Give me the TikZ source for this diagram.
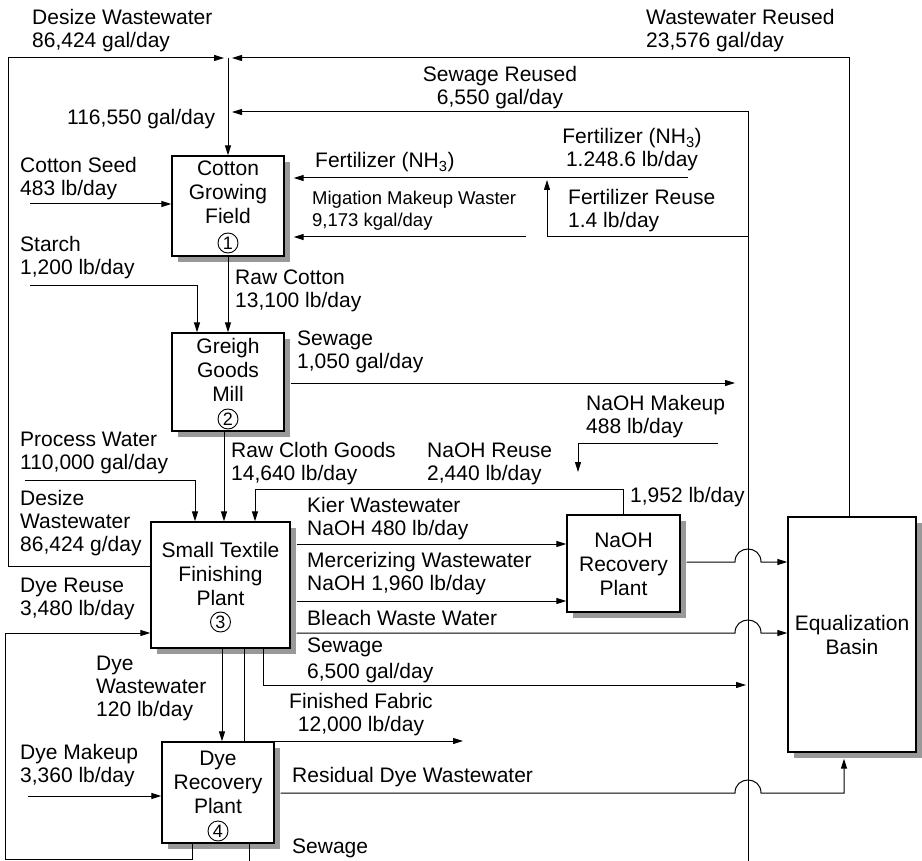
\documentclass[tikz,border=0pt]{standalone}
\usepackage{fontspec}
\setmainfont{Liberation Sans}
\usetikzlibrary{arrows.meta,shadows,calc}
\begin{document}
\begin{tikzpicture}[x=1pt,y=-1pt,
  lbl/.style={font=\fontsize{21}{23}\selectfont, inner sep=0pt, anchor=base west, align=left},
  lblc/.style={font=\fontsize{21}{23}\selectfont, inner sep=0pt, anchor=base, align=center},
  small/.style={font=\fontsize{18.5}{22}\selectfont, inner sep=0pt, anchor=base west, align=left},
  boxtxt/.style={font=\fontsize{21}{24}\selectfont, inner sep=0pt, anchor=base, align=center},
  box/.style={draw, fill=white, line width=1.3pt, inner sep=0pt,
    drop shadow={shadow xshift=6pt, shadow yshift=-6pt, fill=black!40, opacity=1}},
  num/.style={draw, circle, line width=0.9pt, minimum size=20pt, inner sep=0pt, font=\fontsize{18}{18}\selectfont},
  flow/.style={line width=1pt, -{Triangle[length=10pt,width=6pt]}},
  pipe/.style={line width=1pt},
]
\useasboundingbox (0,0) rectangle (922,861);

% boxes
\node[box, minimum width=112pt, minimum height=100pt] (b1) at (228,206) {};
\node[box, minimum width=112pt, minimum height=98pt] (b2) at (228,382) {};
\node[box, minimum width=139pt, minimum height=126pt] (b3) at (220.5,585) {};
\node[box, minimum width=112pt, minimum height=101pt] (b4) at (218,792.5) {};
\node[box, minimum width=113pt, minimum height=97pt] (b5) at (623.5,563.5) {};
\node[box, minimum width=128pt, minimum height=235pt] (b6) at (852,634.5) {};

% box texts (base anchor = last line)
\node[boxtxt] (t1) at (228,224) {Cotton\\Growing\\Field};
\node[num] (c1) at (228,243) {1};
\node[boxtxt] (t2) at (228,401) {Greigh\\Goods\\Mill};
\node[num] (c2) at (228,419) {2};
\node[boxtxt] (t3) at (220.5,605) {Small Textile\\Finishing\\Plant};
\node[num] (c3) at (220.5,622) {3};
\node[boxtxt] (t4) at (218,813) {Dye\\Recovery\\Plant};
\node[num] (c4) at (218,831) {4};
\node[boxtxt] (t5) at (623.5,595) {NaOH\\Recovery\\Plant};
\node[boxtxt] (t6) at (852,654) {Equalization\\Basin};

% named free ends
\coordinate (J) at (228,58);
\coordinate (fz) at (688,178);
\coordinate (mg) at (526,237);
\coordinate (cs) at (30,204);
\coordinate (st) at (30,286);
\coordinate (pw) at (25,480);
\coordinate (nm) at (718,443);
\coordinate (nmt) at (578,472);
\coordinate (ffe) at (463,741);
\coordinate (dm) at (28,796);
\coordinate (swb) at (748,861);
\coordinate (s1e) at (735,383);
\coordinate (s2e) at (746,685);

% top loop
\draw[flow] (b3.west |- 0,566) -- (8,566) -- (8,58) -- ($(J)+(-4,0)$);
\draw[flow] (b6.north -| 849,0) -- (849,58) -- ($(J)+(4,0)$);
\draw[flow] (J) -- (b1.north);
\draw[flow] (swb) -- (748,112) -- ($(J |- 0,112)+(4,0)$);
\draw[flow] (748,237) -- (547,237) -- (547,180);

% cotton field inputs
\draw[flow] (fz) -- ($(b1.east |- fz)+(9,0)$);
\draw[flow] (mg) -- ($(b1.east |- mg)+(9,0)$);
\draw[flow] (cs) -- (b1.west |- cs);
\draw[flow] (b1.south) -- (b2.north);
\draw[flow] (st) -| ($(b2.north)+(-31,0)$);
\draw[flow] ($(b2.east |- s1e)+(6,0)$) -- (s1e);

% textile plant inputs
\draw[flow] ($(b2.south)+(-4,0)$) -- ($(b3.north)+(3.5,0)$);
\draw[flow] (pw) -| ($(b3.north)+(-25.5,0)$);
\draw[flow] (b5.north) |- (255,489) -- ($(b3.north)+(34.5,0)$);
\draw[flow] (nm) -| (nmt);

% textile outputs
\draw[flow] ($(b3.east |- 0,544)+(6,0)$) -- (b5.west |- 0,544);
\draw[flow] ($(b3.east |- 0,601)+(6,0)$) -- (b5.west |- 0,601);
\draw[flow] ($(b3.east |- 0,633)+(6,0)$) -- (735,633)
  .. controls +(0,-17.3) and +(0,-17.3) .. (761,633) -- (b6.west |- 0,633);
\draw[flow] ($(b5.east |- 0,562)+(6,0)$) -- (735,562)
  .. controls +(0,-17.3) and +(0,-17.3) .. (761,562) -- (b6.west |- 0,562);
\draw[flow] ($(b3.south)+(42.5,0)$) |- (s2e);
\draw[flow] ($(b3.south)+(1.5,0)$) -- ($(b4.north)+(4,0)$);
\draw[flow] ($(b3.south)+(23.5,0)$) |- (ffe);

% dye recovery
\draw[flow] (dm) -- (b4.west |- dm);
\draw[flow] ($(b4.east |- 0,793)+(6,0)$) -- (735,793)
  .. controls +(0,-17.3) and +(0,-17.3) .. (761,793) -- (844,793) -- ($(b6.south -| 844,0)+(0,6)$);
\draw[flow] ($(b4.south)+(-26,0)$) -- (192,859) -- (5,859) -- (5,633) -- (b3.west |- 0,633);
\draw[pipe] ($(b4.south)+(31,0)$) -- (249,861);

% labels (base anchor = last line)
\node[lbl] (l1) at (32,48) {Desize Wastewater\\86,424 gal/day};
\node[lbl] (l2) at (646,48) {Wastewater Reused\\23,576 gal/day};
\node[lblc] (l3) at (500,105) {Sewage Reused\\6,550 gal/day};
\node[lbl] (l4) at (67,125) {116,550 gal/day};
\node[lbl] (l5) at (20,196) {Cotton Seed\\483 lb/day};
\node[lbl] (l6) at (315,168) {Fertilizer (NH\textsubscript{3})};
\node[lblc] (l7) at (632,167) {Fertilizer (NH\textsubscript{3})\\1.248.6 lb/day};
\node[small] (l8) at (312,227) {Migation Makeup Waster\\9,173 kgal/day};
\node[lbl] (l9) at (568,228) {Fertilizer Reuse\\1.4 lb/day};
\node[lbl] (l10) at (20,275) {Starch\\1,200 lb/day};
\node[lbl] (l11) at (235,308) {Raw Cotton\\13,100 lb/day};
\node[lbl] (l12) at (297,368) {Sewage\\1,050 gal/day};
\node[lbl] (l13) at (586,433) {NaOH Makeup\\488 lb/day};
\node[lbl] (l14) at (20,469) {Process Water\\110,000 gal/day};
\node[lbl] (l15) at (231,480) {Raw Cloth Goods\\14,640 lb/day};
\node[lbl] (l16) at (427,480) {NaOH Reuse\\2,440 lb/day};
\node[lbl] (l17) at (20,551) {Desize\\Wastewater\\86,424 g/day};
\node[lbl] (l18) at (307,535) {Kier Wastewater\\NaOH 480 lb/day};
\node[lbl] (l19) at (630,502) {1,952 lb/day};
\node[lbl] (l20) at (307,590) {Mercerizing Wastewater\\NaOH 1,960 lb/day};
\node[lbl] (l21) at (20,615) {Dye Reuse\\3,480 lb/day};
\node[lbl] (l22) at (307,625) {Bleach Waste Water};
\node[lbl] (l23) at (307,678) {Sewage\\[3pt]6,500 gal/day};
\node[lbl] (l24) at (96,716) {Dye\\Wastewater\\120 lb/day};
\node[lblc] (l25) at (361,731) {Finished Fabric\\12,000 lb/day};
\node[lbl] (l26) at (20,782) {Dye Makeup\\3,360 lb/day};
\node[lbl] (l27) at (292,782) {Residual Dye Wastewater};
\node[lbl] (l28) at (292,853) {Sewage};
\end{tikzpicture}
\end{document}
